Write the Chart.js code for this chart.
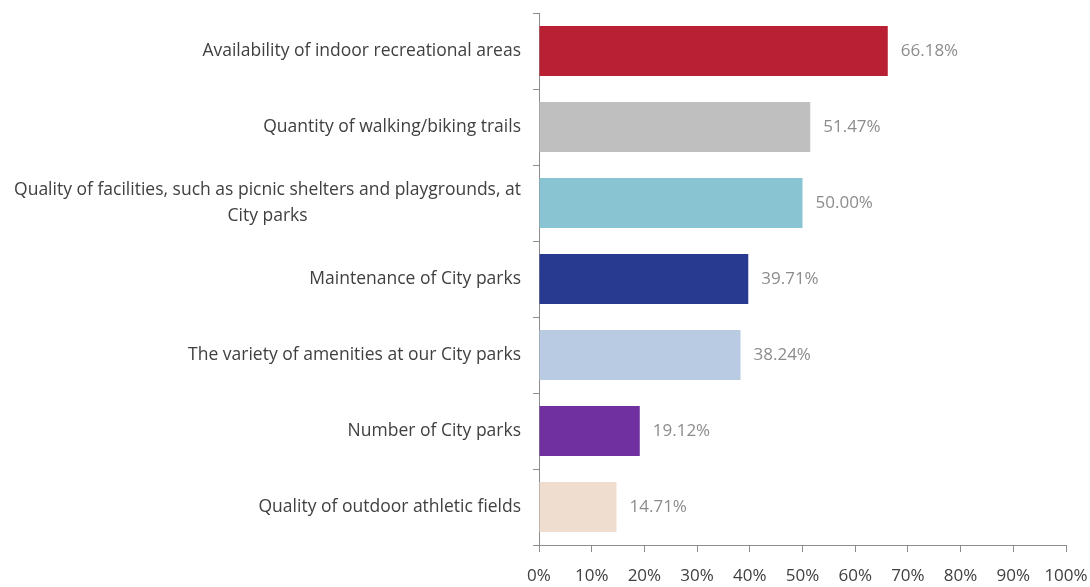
<!DOCTYPE html>
<html>
<head>
<meta charset="utf-8">
<script src="https://cdn.jsdelivr.net/npm/chart.js@4"></script>
<style>
    html, body { margin: 0; padding: 0; background: #fff; }
    #wrap { width: 1090px; height: 587px; }
</style>
</head>
<body>
<div id="wrap"><canvas id="chart"></canvas></div>
<script>
const categories = [
    'Availability of indoor recreational areas',
    'Quantity of walking/biking trails',
    ['Quality of facilities, such as picnic shelters and playgrounds, at', 'City parks'],
    'Maintenance of City parks',
    'The variety of amenities at our City parks',
    'Number of City parks',
    'Quality of outdoor athletic fields'
]
const percentages = [66.18, 51.47, 50.00, 39.71, 38.24, 19.12, 14.71]
const barColors = ['#BA2033', '#BFBFBF', '#89C4D3', '#283A8F', '#B8CBE3', '#7030A0', '#EFDDCF']
const xTicks = [0, 10, 20, 30, 40, 50, 60, 70, 80, 90, 100]

const fontFamily = '"Open Sans", sans-serif'

// category names: right aligned against the axis, wrapped lines centred on each other
const categoryLabels = {
    id: 'categoryLabels',
    afterDraw(chart) {
        const ctx = chart.ctx
        const yScale = chart.scales.y
        const right = yScale.right - 18
        const lineHeight = 26
        ctx.save()
        ctx.font = '17.5px ' + fontFamily
        ctx.fillStyle = '#404040'
        ctx.textAlign = 'center'
        ctx.textBaseline = 'middle'
        categories.forEach((label, i) => {
            const lines = Array.isArray(label) ? label : [label]
            const widest = Math.max(...lines.map(l => ctx.measureText(l).width))
            const cx = right - widest / 2
            const y0 = yScale.getPixelForValue(i) - (lines.length - 1) * lineHeight / 2
            lines.forEach((line, j) => ctx.fillText(line, cx, y0 + j * lineHeight))
        })
        ctx.restore()
    }
}

// write the value next to the end of each bar
const valueLabels = {
    id: 'valueLabels',
    afterDatasetsDraw(chart) {
        const ctx = chart.ctx
        const meta = chart.getDatasetMeta(0)
        ctx.save()
        ctx.font = '17px ' + fontFamily
        ctx.fillStyle = '#8C8C8C'
        ctx.textAlign = 'left'
        ctx.textBaseline = 'middle'
        meta.data.forEach((bar, i) => {
            ctx.fillText(percentages[i].toFixed(2) + '%', bar.x + 13, bar.y)
        })
        ctx.restore()
    }
}

new Chart(document.getElementById('chart'), {
    type: 'bar',
    data: {
        labels: categories,
        datasets: [{
            data: percentages,
            backgroundColor: barColors,
            barPercentage: 0.66,
            categoryPercentage: 1
        }]
    },
    options: {
        indexAxis: 'y',
        responsive: true,
        maintainAspectRatio: false,
        animation: false,
        layout: {
            padding: { top: 13, right: 24, bottom: 0, left: 0 }
        },
        scales: {
            x: {
                min: 0,
                max: 100,
                afterBuildTicks: (axis) => {
                    axis.ticks = xTicks.map(v => ({ value: v }))
                },
                afterFit: (axis) => {
                    axis.height = 42
                    axis.paddingLeft = 0
                    axis.paddingRight = 0
                },
                border: { color: '#8C8C8C', width: 1 },
                grid: {
                    drawOnChartArea: false,
                    drawTicks: true,
                    tickLength: 7,
                    color: '#8C8C8C'
                },
                ticks: {
                    callback: (v) => v + '%',
                    color: '#404040',
                    padding: 14,
                    maxRotation: 0,
                    font: { family: fontFamily, size: 17 }
                }
            },
            y: {
                afterFit: (axis) => { axis.width = 539 },
                border: { color: '#8C8C8C', width: 1 },
                grid: {
                    offset: true,
                    drawOnChartArea: false,
                    tickLength: 6,
                    color: '#8C8C8C'
                },
                ticks: { display: false }
            }
        },
        plugins: {
            legend: { display: false },
            tooltip: { enabled: false }
        }
    },
    plugins: [categoryLabels, valueLabels]
})
</script>
</body>
</html>
